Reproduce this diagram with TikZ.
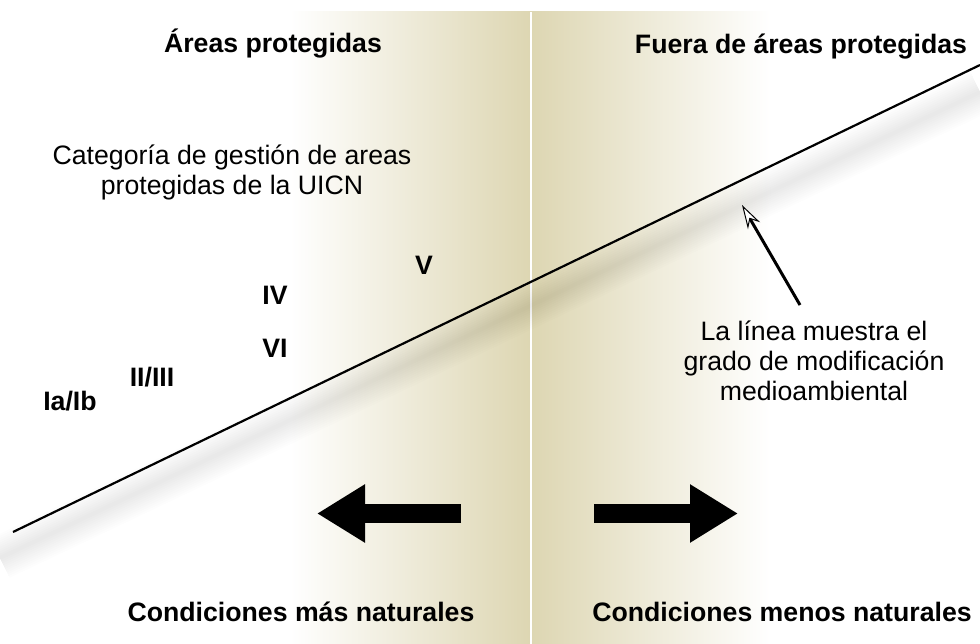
\documentclass[tikz,border=0pt]{standalone}
\usepackage{fontspec}
\setmainfont{Liberation Sans}
\usetikzlibrary{arrows.meta}
\definecolor{bandtan}{RGB}{221,214,178}
\tikzset{
  heading/.style={font=\bfseries\fontsize{26.67}{30}\selectfont, anchor=base, inner sep=0pt},
  category/.style={font=\bfseries\fontsize{26.67}{30}\selectfont, anchor=base, inner sep=0pt},
  note/.style={font=\fontsize{26.67}{30}\selectfont, align=center, inner sep=0pt},
  bigarrow/.style={line width=19pt, -{Triangle[length=48pt,width=55pt]}}
}
\begin{document}
\begin{tikzpicture}[x=1pt,y=-1pt]
% canvas, 980 x 644
\useasboundingbox (0,0) rectangle (980,644);

% shaded band in the middle, split by a thin white line
\shade[left color=white, right color=bandtan] (290,12) rectangle (531,644);
\shade[left color=bandtan, right color=white] (531,12) rectangle (770,644);
\draw[white, line width=2pt] (531,12) -- (531,644);

% soft shadow below the line
\foreach \w in {4,8,...,44}
  \draw[black, opacity=0.009, line width=\w pt] (0,558) -- (980,92);

% line of environmental modification
\coordinate (low) at (13,532);
\coordinate (high) at (980,65);
\draw[line width=2.2pt] (low) -- (high);

% headings
\node[heading] (inside) at (273,53) {Áreas protegidas};
\node[heading] (outside) at (801,54) {Fuera de áreas protegidas};

% IUCN categories
\node[note] (category) at (232,172) {Categoría de gestión de areas\\protegidas de la UICN};
\node[category] (cat-ia) at (70,410) {Ia/Ib};
\node[category] (cat-ii) at (152,386) {II/III};
\node[category] (cat-iv) at (275,305) {IV};
\node[category] (cat-vi) at (275,357) {VI};
\node[category] (cat-v) at (424,275) {V};

% note pointing at the line
\node[note] (modline) at (814,361) {La línea muestra el\\grado de modificación\\medioambiental};
\coordinate (tail) at (800,305);
\coordinate (tip) at (742,205);
\draw[line width=3pt, -{Stealth[length=24pt,width=14pt,fill=white,line width=1pt]}] (tail) -- (tip);

% direction arrows
\coordinate (left start) at (461,513.5);
\coordinate (left end) at (317,513.5);
\coordinate (right start) at (594,513.5);
\coordinate (right end) at (738,513.5);
\draw[bigarrow] (left start) -- (left end);
\draw[bigarrow] (right start) -- (right end);

% bottom labels
\node[heading] (morenat) at (301,621) {Condiciones más naturales};
\node[heading] (lessnat) at (782,621) {Condiciones menos naturales};
\end{tikzpicture}
\end{document}
